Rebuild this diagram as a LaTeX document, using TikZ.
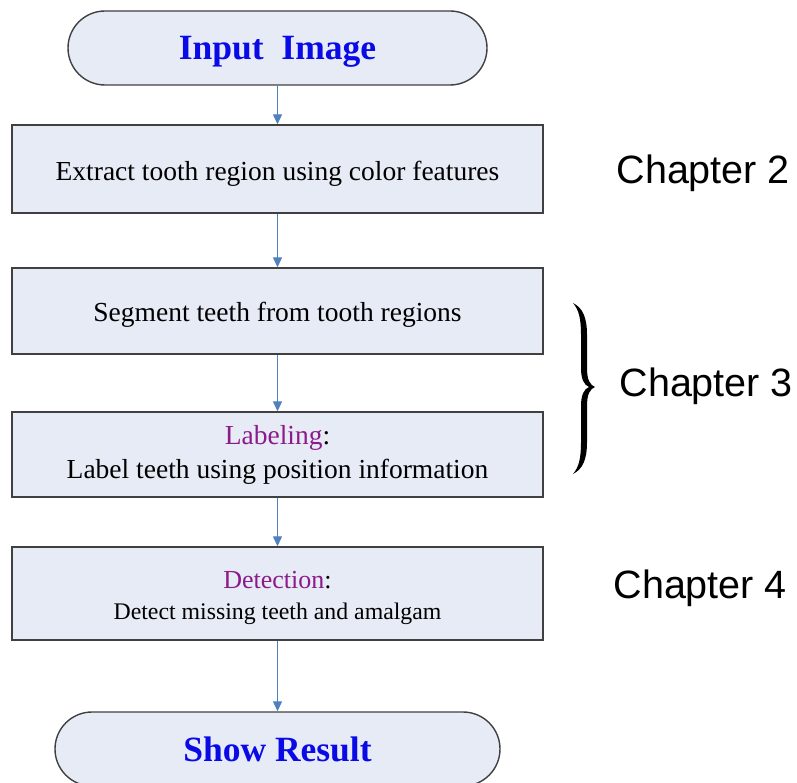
\documentclass[tikz,border=0pt]{standalone}
\usepackage{fontspec}
\setmainfont{Liberation Serif}
\newfontfamily\chapfont{Liberation Sans}
\usetikzlibrary{arrows.meta}
\definecolor{boxfill}{HTML}{E6EBF5}
\definecolor{boxline}{HTML}{404040}
\definecolor{flowblue}{HTML}{4F81BD}
\definecolor{titleblue}{HTML}{0A0AE6}
\definecolor{tagpurple}{HTML}{8B1A8B}
\newcommand{\lowered}[2]{\raisebox{-#1}[\height][\depth]{#2}}
\tikzset{
  x=1pt,y=1pt,
  stepbox/.style={draw=boxline,fill=boxfill,line width=1.4pt,minimum width=531pt,
    align=center,inner sep=0pt},
  terminal/.style={draw=boxline,fill=boxfill,line width=1.4pt,rounded corners=37pt,
    align=center,inner sep=0pt,minimum height=74pt,
    font=\fontsize{35.5}{40}\selectfont\bfseries,text=titleblue},
  flow/.style={draw=flowblue,line width=1.3pt,-{Triangle[length=10pt,width=9pt]}},
  chapter/.style={font=\chapfont\fontsize{39.5}{44}\selectfont,anchor=west},
  steptext/.style={font=\fontsize{27.5}{33}\selectfont}
}
\begin{document}
\begin{tikzpicture}
\useasboundingbox (0,0) rectangle (797,-783);
\node[terminal,minimum width=419pt] (in) at (277.5,-48) {\lowered{4pt}{Input\ \ Image}};
\node[stepbox,minimum height=88pt,steptext] (s1) at (277.5,-169) {\lowered{5pt}{Extract tooth region using color features}};
\node[stepbox,minimum height=86pt,steptext] (s2) at (277.5,-311) {\lowered{4pt}{Segment teeth from tooth regions}};
\node[stepbox,minimum height=85pt,steptext] (s3) at (277.5,-454.5)
  {{\color{tagpurple}Labeling}:\\[1pt]Label teeth using position information};
\node[stepbox,minimum height=93pt,font=\fontsize{26}{31}\selectfont] (s4) at (277.5,-593.5)
  {\lowered{4pt}{{\color{tagpurple}Detection}:}\\\lowered{4pt}{\fontsize{23.8}{31}\selectfont Detect missing teeth and amalgam}};
\node[terminal,minimum width=445pt] (out) at (277.5,-749) {Show Result};

\draw[flow] (in) -- (s1);
\draw[flow] (s1) -- (s2);
\draw[flow] (s2) -- (s3);
\draw[flow] (s3) -- (s4);
\draw[flow] (s4) -- (out);

% curly brace grouping the two chapter-3 steps, drawn as a filled glyph
\fill (573,-303) .. controls (583,-308) and (587,-318) .. (587,-335) -- (587,-368)
  .. controls (587,-380) and (590,-385) .. (595,-387)
  .. controls (590,-389) and (587,-394) .. (587,-406) -- (587,-442)
  .. controls (587,-459) and (583,-469) .. (573,-474)
  .. controls (579,-467) and (581,-458) .. (581,-442) -- (581,-406)
  .. controls (581,-395) and (584,-389) .. (589,-387)
  .. controls (584,-385) and (581,-379) .. (581,-368) -- (581,-335)
  .. controls (581,-319) and (579,-310) .. (573,-303) -- cycle;

\node[chapter] (c2) at (613,-173) {Chapter 2};
\node[chapter] (c3) at (616,-386) {Chapter 3};
\node[chapter] (c4) at (610,-588) {Chapter 4};
\end{tikzpicture}
\end{document}
